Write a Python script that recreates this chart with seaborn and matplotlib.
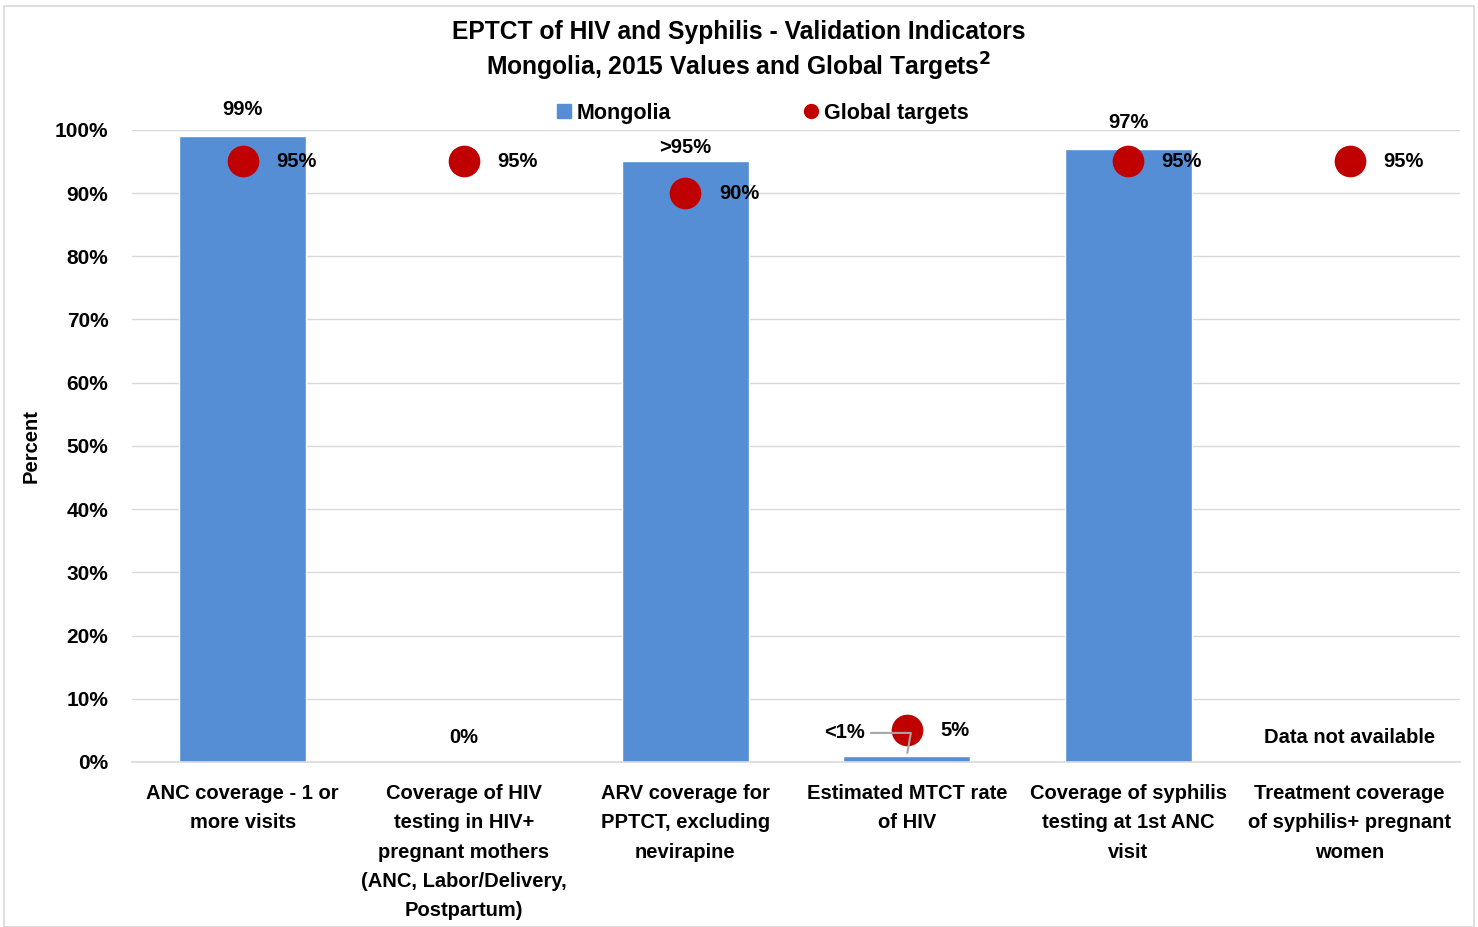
import numpy as np
import pandas as pd
import matplotlib
matplotlib.use("Agg")
import matplotlib.pyplot as plt
from matplotlib.patches import Rectangle
from matplotlib.lines import Line2D
import seaborn as sns

# ── data ─────────────────────────────────────────────
CATEGORIES = [
    "ANC coverage - 1 or\nmore visits",
    "Coverage of HIV\ntesting in HIV+\npregnant mothers\n(ANC, Labor/Delivery,\nPostpartum)",
    "ARV coverage for\nPPTCT, excluding\nnevirapine",
    "Estimated MTCT rate\nof HIV",
    "Coverage of syphilis\ntesting at 1st ANC\nvisit",
    "Treatment coverage\nof syphilis+ pregnant\nwomen",
]
MONGOLIA = [99, 0, 95, 1, 97, np.nan]
MONGOLIA_LABELS = ["99%", "0%", ">95%", "<1%", "97%", "Data not available"]
TARGETS = [95, 95, 90, 5, 95, 95]
TARGET_LABELS = ["95%", "95%", "90%", "5%", "95%", "95%"]
Y_TICKS = list(range(0, 101, 10))

BAR_COLOR = "#558ED5"
DOT_COLOR = "#C00000"
FS = 14.5

sns.set_theme(style="white")
plt.rcParams["font.family"] = ["Liberation Sans", "DejaVu Sans"]
plt.rcParams["font.weight"] = "bold"
plt.rcParams["text.color"] = "black"
plt.rcParams["axes.labelcolor"] = "black"
plt.rcParams["xtick.color"] = "black"
plt.rcParams["ytick.color"] = "black"

df = pd.DataFrame({"cat": CATEGORIES, "val": MONGOLIA})

fig = plt.figure(figsize=(14.78, 9.27), dpi=100)
ax = fig.add_axes([0.0893, 0.178, 0.8987, 0.682])

sns.barplot(data=df, x="cat", y="val", color=BAR_COLOR, width=0.575,
            saturation=1, ax=ax, zorder=2)
x = np.arange(len(CATEGORIES))
ax.scatter(x, TARGETS, s=520, color=DOT_COLOR, zorder=4, linewidths=0)

# labels for targets
for xi, t, lab in zip(x, TARGETS, TARGET_LABELS):
    ax.annotate(lab, xy=(xi, t), xytext=(24, 0), textcoords="offset points",
                ha="left", va="center", fontsize=FS, fontweight="bold", zorder=5)

# labels for bars (Excel nudges some labels further up)
bar_label_offset = {"99%": 19, ">95%": 10, "97%": 19}
for xi, v, lab in zip(x, MONGOLIA, MONGOLIA_LABELS):
    if lab == "<1%":
        ax.annotate(lab, xy=(xi, v), xytext=(xi - 0.19, 4.6),
                    ha="right", va="center", fontsize=FS, fontweight="bold",
                    arrowprops=dict(arrowstyle="-", color="#A6A6A6", lw=1.5,
                                    connectionstyle="angle,angleA=0,angleB=80"),
                    zorder=5)
    elif np.isnan(v) or v == 0:
        ax.text(xi, 3.9, lab, ha="center", va="center", fontsize=FS,
                fontweight="bold", zorder=5)
    else:
        ax.annotate(lab, xy=(xi, v), xytext=(0, bar_label_offset[lab]),
                    textcoords="offset points", ha="center", va="center",
                    fontsize=FS, fontweight="bold", zorder=5)

ax.set_ylim(0, 100)
ax.set_xlim(-0.5, len(CATEGORIES) - 0.5)
ax.set_yticks(Y_TICKS)
ax.set_yticklabels([f"{t}%" for t in Y_TICKS], fontsize=15, fontweight="bold")
ax.set_xticklabels(CATEGORIES, fontsize=FS, fontweight="bold", linespacing=1.68)
ax.tick_params(axis="y", length=0, pad=17)
ax.tick_params(axis="x", length=0, pad=16)
ax.yaxis.grid(True, color="#D9D9D9", lw=1)
ax.set_axisbelow(True)
for s in ["top", "right", "left"]:
    ax.spines[s].set_visible(False)
ax.spines["bottom"].set_color("#D9D9D9")
ax.spines["bottom"].set_linewidth(1.2)
ax.set_xlabel("")
ax.set_ylabel("Percent", fontsize=FS, fontweight="bold", labelpad=10)

fig.text(0.5, 0.965, "EPTCT of HIV and Syphilis - Validation Indicators",
         ha="center", va="center", fontsize=17.7, fontweight="bold")
fig.text(0.5, 0.928, r"Mongolia, 2015 Values and Global Targets$^{\mathbf{2}}$",
         ha="center", va="center", fontsize=17.7, fontweight="bold")

handles = [
    Line2D([], [], marker="s", color=BAR_COLOR, lw=0, markersize=10),
    Line2D([], [], marker="o", color=DOT_COLOR, lw=0, markersize=10),
]
leg = fig.legend(handles, ["Mongolia", "Global targets"], loc="center",
                 bbox_to_anchor=(0.515, 0.878), ncol=2, frameon=False,
                 columnspacing=6.0, handletextpad=0.1, handlelength=1.0,
                 prop={"size": 15.5, "weight": "bold"})

fig.patches.append(Rectangle((0.003, 0.0), 0.994, 0.993, transform=fig.transFigure,
                             fill=False, edgecolor="#D9D9D9", lw=1.2))

plt.savefig("out.png", dpi=100, facecolor="white")
